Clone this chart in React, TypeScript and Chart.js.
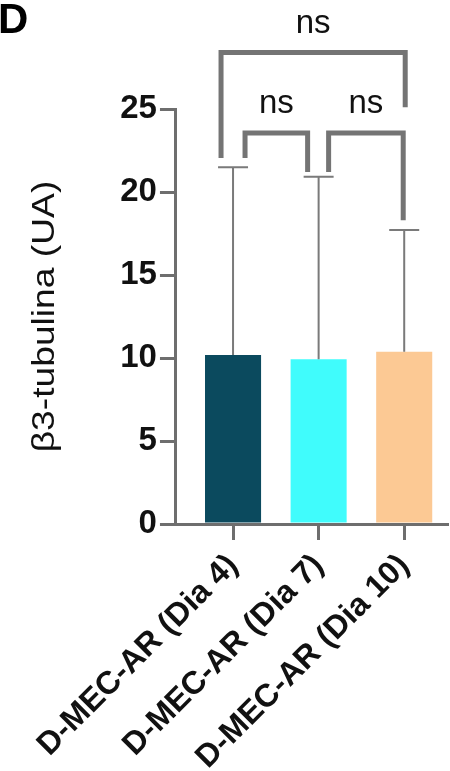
import { useEffect, useRef } from "react";
import { Chart, registerables } from "chart.js";

Chart.register(...registerables);

const categories = ["D-MEC-AR (Dia 4)", "D-MEC-AR (Dia 7)", "D-MEC-AR (Dia 10)"];
const means = [10.18, 9.92, 10.38];
const sdUpper = [11.31, 11.0, 7.33];
const barColors = ["#0b4a5e", "#40fcfc", "#fcc994"];
const yTickValues = [0, 5, 10, 15, 20, 25];
const compFrom = [0, 0, 1];
const compTo = [2, 1, 2];
const compLevel = [28.4, 23.55, 23.55];
const compLegStart = [22.05, 22.05, 21.2];
const compLegEnd = [25.1, 21.2, 18.3];
const compLabels = ["ns", "ns", "ns"];
const panelLetter = "D";
const yTitle = "β3-tubulina (UA)";

const FONT = "'Liberation Sans', Arial, Helvetica, sans-serif";
const AXIS_GRAY = "#6e6e6e";
const LINE_GRAY = "#747474";
const legDx = [
  [-12, 1],
  [12, -11],
  [10, -1],
];

const overlayPlugin = {
  id: "overlay",
  afterDatasetsDraw(chart: any) {
    const ctx = chart.ctx;
    const xs = chart.scales.x;
    const ys = chart.scales.y;
    const area = chart.chartArea;
    ctx.save();
    // error bars
    ctx.strokeStyle = "#7a7a7a";
    ctx.lineWidth = 2;
    means.forEach((m, i) => {
      const x = xs.getPixelForValue(i);
      const y0 = ys.getPixelForValue(m);
      const y1 = ys.getPixelForValue(m + sdUpper[i]);
      ctx.beginPath();
      ctx.moveTo(x, y0);
      ctx.lineTo(x, y1);
      ctx.moveTo(x - 15, y1);
      ctx.lineTo(x + 15, y1);
      ctx.stroke();
    });
    // brackets
    ctx.strokeStyle = LINE_GRAY;
    ctx.lineWidth = 5;
    ctx.lineJoin = "miter";
    ctx.lineCap = "butt";
    ctx.fillStyle = "#111";
    ctx.font = `33px ${FONT}`;
    ctx.textAlign = "center";
    ctx.textBaseline = "alphabetic";
    compFrom.forEach((a, k) => {
      const b = compTo[k];
      const x1 = xs.getPixelForValue(a) + legDx[k][0];
      const x2 = xs.getPixelForValue(b) + legDx[k][1];
      const yl = ys.getPixelForValue(compLevel[k]);
      const ya = ys.getPixelForValue(compLegStart[k]);
      const yb = ys.getPixelForValue(compLegEnd[k]);
      ctx.beginPath();
      ctx.moveTo(x1, ya);
      ctx.lineTo(x1, yl);
      ctx.lineTo(x2, yl);
      ctx.lineTo(x2, yb);
      ctx.stroke();
      ctx.fillText(compLabels[k], (x1 + x2) / 2, yl - 20);
    });
    // y axis title (stretched along its length like the reference)
    ctx.save();
    ctx.translate(54, (area.top + area.bottom) / 2);
    ctx.rotate(-Math.PI / 2);
    ctx.scale(1.2, 1);
    ctx.font = `31px ${FONT}`;
    ctx.textAlign = "center";
    ctx.textBaseline = "alphabetic";
    ctx.fillStyle = "#111";
    ctx.fillText(yTitle, 0, 0);
    ctx.restore();
    // panel letter
    ctx.font = `bold 42px ${FONT}`;
    ctx.textAlign = "left";
    ctx.fillStyle = "#000";
    ctx.fillText(panelLetter, -2, 33);
    ctx.restore();
  },
};

export default function App() {
  const ref = useRef<HTMLCanvasElement | null>(null);
  useEffect(() => {
    if (!ref.current) return;
    const chart = new Chart(ref.current, {
      type: "bar",
      data: {
        datasets: [
          {
            data: means.map((m, i) => ({ x: i, y: m })),
            backgroundColor: barColors,
            borderWidth: 0,
            barPercentage: 0.655,
            categoryPercentage: 1,
          },
        ],
      },
      options: {
        animation: false,
        responsive: false,
        devicePixelRatio: 1,
        layout: { padding: { top: 109, right: 3, left: 0, bottom: 0 } },
        plugins: { legend: { display: false }, tooltip: { enabled: false } },
        scales: {
          x: {
            type: "linear",
            offset: false,
            min: -0.667,
            max: 2.5,
            afterBuildTicks: (s: any) => {
              s.ticks = categories.map((_, i) => ({ value: i }));
            },
            afterFit: (s: any) => {
              s.height = 771 - 524;
            },
            ticks: {
              autoSkip: false,
              maxRotation: 45,
              minRotation: 45,
              padding: 7,
              color: "#111",
              font: { family: FONT, size: 32, weight: "bold" },
              callback: (v: any) => categories[v as number] ?? "",
            },
            grid: {
              display: true,
              offset: false,
              drawOnChartArea: false,
              drawTicks: true,
              tickLength: 16,
              color: AXIS_GRAY,
              lineWidth: 3,
            },
            border: { display: true, color: AXIS_GRAY, width: 3 },
          },
          y: {
            min: 0,
            max: 25,
            afterBuildTicks: (s: any) => {
              s.ticks = yTickValues.map((v) => ({ value: v }));
            },
            afterFit: (s: any) => {
              s.width = 172;
            },
            ticks: {
              padding: 3,
              color: "#111",
              font: { family: FONT, size: 33, weight: "bold" },
            },
            grid: {
              display: true,
              drawOnChartArea: false,
              drawTicks: true,
              tickLength: 16,
              color: AXIS_GRAY,
              lineWidth: 3,
            },
            border: { display: true, color: AXIS_GRAY, width: 3 },
          },
        },
      },
      plugins: [overlayPlugin],
    });
    return () => chart.destroy();
  }, []);
  return (
    <div style={{ position: "absolute", left: 0, top: 0, width: 450, height: 771, background: "#fff" }}>
      <canvas ref={ref} width={450} height={771} style={{ display: "block", width: 450, height: 771 }} />
    </div>
  );
}
